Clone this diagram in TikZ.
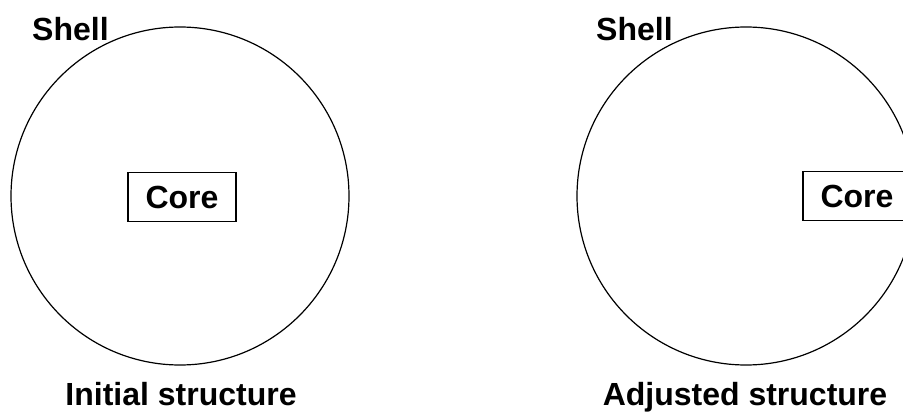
\documentclass[tikz,border=0pt]{standalone}
\usepackage{fontspec}
\setmainfont{Liberation Sans}
\usetikzlibrary{positioning}
\tikzset{
  shellring/.style={circle, draw=black, line width=1.2pt, minimum size=338pt, inner sep=0pt},
  corebox/.style={rectangle, draw=black, line width=1.3pt, minimum width=108pt,
                  minimum height=49pt, font=\bfseries\fontsize{32}{38}\selectfont},
  tag/.style={font=\bfseries\fontsize{32}{38}\selectfont, inner sep=0pt},
}
\begin{document}
\begin{tikzpicture}[x=1pt, y=-1pt]
  \useasboundingbox (0,0) rectangle (903,415);
  \clip (0,0) rectangle (903,415);
  % left: initial structure
  \node[shellring] (shellA) at (180,196) {};
  \node[corebox] (coreA) at (182,197) {Core};
  \node[tag, anchor=base west] (shellAtag) at (32,40) {Shell};
  \node[tag, anchor=base] (capA) at (181,405) {Initial structure};
  % right: adjusted structure
  \node[shellring] (shellB) at (746,196) {};
  \node[corebox] (coreB) at (857,196) {Core};
  \node[tag, anchor=base west] (shellBtag) at (596,40) {Shell};
  \node[tag, anchor=base] (capB) at (745,405) {Adjusted structure};
\end{tikzpicture}
\end{document}
